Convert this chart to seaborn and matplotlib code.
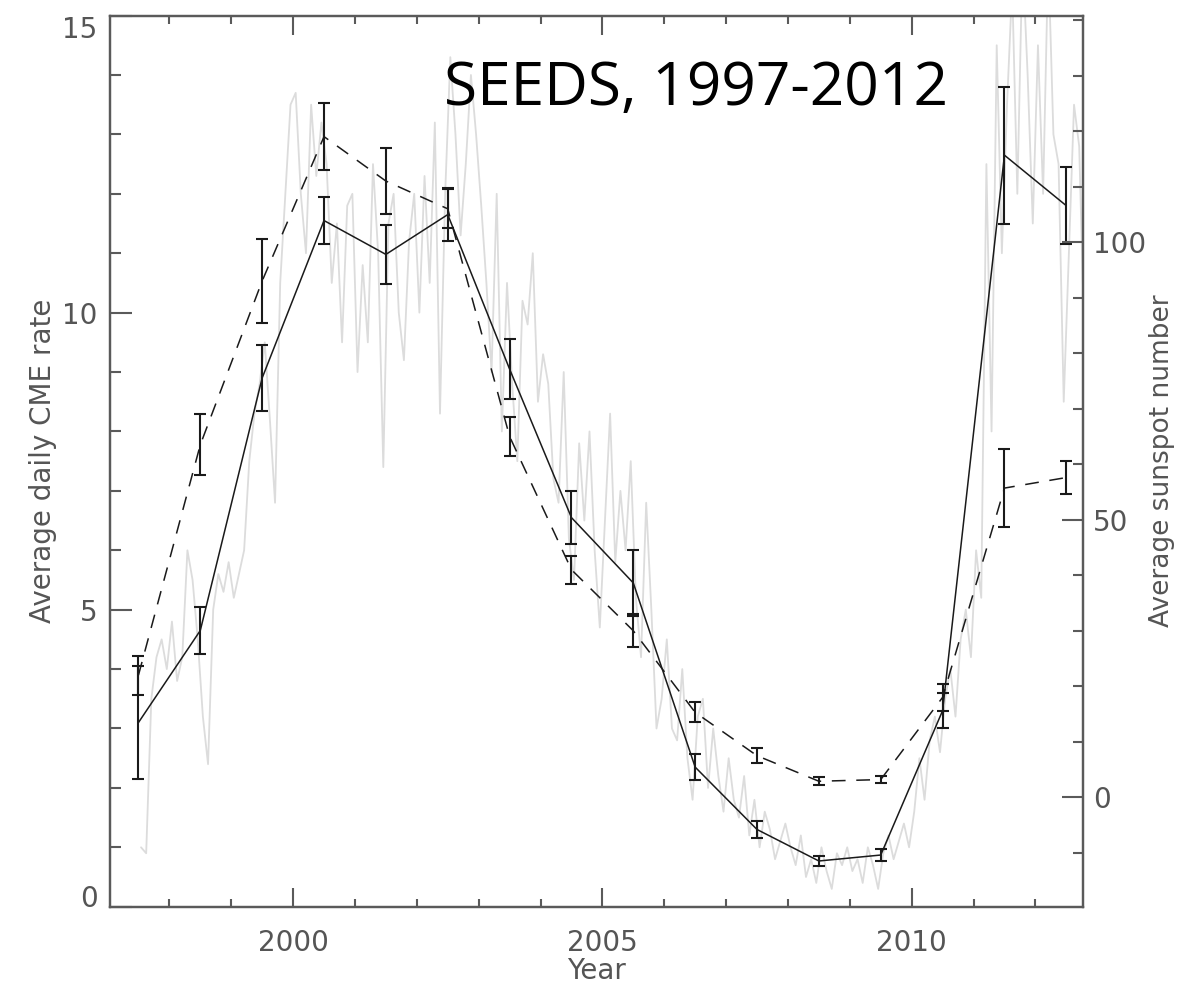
import numpy as np
import pandas as pd
import matplotlib
matplotlib.use("Agg")
import matplotlib.pyplot as plt
from matplotlib.ticker import MultipleLocator
import seaborn as sns

# Yearly averages (mid-year)
years = [1997.5, 1998.5, 1999.5, 2000.5, 2001.5, 2002.5, 2003.5, 2004.5,
         2005.5, 2006.5, 2007.5, 2008.5, 2009.5, 2010.5, 2011.5, 2012.5]
cme_rate = [3.1, 4.65, 8.9, 11.55, 10.98, 11.65, 9.05, 6.55,
            5.45, 2.35, 1.3, 0.77, 0.87, 3.3, 12.65, 11.8]
cme_err = [0.95, 0.4, 0.55, 0.4, 0.5, 0.45, 0.5, 0.45,
           0.55, 0.22, 0.14, 0.08, 0.1, 0.3, 1.15, 0.65]
sunspot = [22.0, 63.5, 93.0, 119.0, 111.0, 106.0, 65.0, 41.0,
           30.0, 15.3, 7.5, 2.9, 3.2, 18.0, 55.7, 57.6]
sunspot_err = [3.5, 5.5, 7.5, 6.0, 6.0, 3.5, 3.5, 2.5,
               3.0, 1.8, 1.3, 0.7, 0.7, 2.5, 7.0, 3.0]

# Monthly CME rate, July 1997 - December 2012
monthly_rate = [
    1.0, 0.9, 3.5, 4.2, 4.5, 4.0,
    4.8, 3.8, 4.2, 6.0, 5.5, 4.5, 3.2, 2.4, 5.0, 5.6, 5.3, 5.8,
    5.2, 5.6, 6.0, 7.5, 8.3, 8.8, 9.5, 8.2, 6.8, 10.5, 12.0, 13.5,
    13.7, 12.0, 11.0, 13.5, 12.3, 13.2, 12.5, 10.5, 11.5, 9.5, 11.8, 12.0,
    9.0, 10.8, 9.5, 12.5, 11.0, 7.4, 11.5, 12.0, 10.0, 9.2, 11.2, 12.0,
    10.0, 12.3, 10.5, 13.2, 8.3, 12.0, 14.3, 13.0, 11.3, 12.5, 14.0, 13.0,
    11.8, 10.5, 9.0, 12.0, 8.0, 10.5, 8.8, 7.5, 10.2, 9.8, 11.0, 8.5,
    9.3, 8.8, 7.2, 6.8, 9.0, 6.2, 5.5, 7.8, 6.5, 8.0, 6.0, 4.7,
    6.5, 8.3, 5.8, 7.0, 6.0, 7.5, 5.2, 4.2, 6.8, 5.0, 3.0, 3.5,
    4.5, 3.0, 2.8, 4.0, 2.5, 1.8, 3.2, 3.5, 2.0, 3.0, 2.2, 1.6,
    2.5, 1.8, 1.5, 2.2, 1.2, 1.8, 1.0, 1.6, 1.3, 0.8, 1.1, 1.4,
    1.0, 0.7, 1.2, 0.5, 0.8, 0.4, 1.0, 0.6, 0.3, 0.9, 0.7, 1.0,
    0.6, 0.8, 0.4, 1.0, 0.7, 0.3, 0.9, 1.2, 0.8, 1.1, 1.4, 1.0,
    1.6, 2.5, 1.8, 2.8, 3.2, 2.6, 3.5, 4.0, 3.2, 4.5, 5.0, 4.2,
    6.0, 5.2, 12.5, 8.0, 14.5, 11.0, 13.5, 15.5, 12.0, 16.0, 14.0, 11.5,
    14.5, 12.0, 16.0, 13.0, 12.5, 8.5, 11.0, 13.5, 12.8, 9.5, 12.5, 11.8,
]
monthly_time = 1997.5 + (np.arange(len(monthly_rate)) + 0.5) / 12.0

title_text = "SEEDS, 1997-2012"
xlabel = "Year"
ylabel_left = "Average daily CME rate"
ylabel_right = "Average sunspot number"

yearly = pd.DataFrame({"year": years, "cme": cme_rate, "cme_err": cme_err,
                       "ssn": sunspot, "ssn_err": sunspot_err})
monthly = pd.DataFrame({"t": monthly_time, "rate": monthly_rate})

sns.set_theme(style="white")
plt.rcParams["font.family"] = ["DejaVu Sans"]

axis_grey = "#5a5a5a"
text_grey = "#555555"
ink = "#1a1a1a"

fig = plt.figure(figsize=(11.84, 9.86), dpi=100)
ax = fig.add_axes([0.0929, 0.0804, 0.8218, 0.9038])
ax2 = ax.twinx()

# Monthly rate in light grey behind everything
sns.lineplot(data=monthly, x="t", y="rate", ax=ax, color="#dcdcdc",
             linewidth=1.3, zorder=1)

# Yearly CME rate (solid) with error bars
sns.lineplot(data=yearly, x="year", y="cme", ax=ax, color=ink,
             linewidth=1.1, zorder=3)
ax.errorbar(yearly["year"], yearly["cme"], yerr=yearly["cme_err"], fmt="none",
            ecolor=ink, elinewidth=1.5, capsize=4.5, capthick=1.5, zorder=4)

# Yearly sunspot number (dashed) with error bars
sns.lineplot(data=yearly, x="year", y="ssn", ax=ax2, color=ink,
             linewidth=1.1, zorder=3)
ax2.lines[-1].set_dashes([9, 7])
ax2.errorbar(yearly["year"], yearly["ssn"], yerr=yearly["ssn_err"], fmt="none",
             ecolor=ink, elinewidth=1.5, capsize=4.5, capthick=1.5, zorder=4)

ax.set_xlim(1997.04, 2012.77)
ax.set_ylim(0, 15)
ax2.set_ylim(-19.7, 140.8)

ax.set_xticks([2000, 2005, 2010])
ax.xaxis.set_minor_locator(MultipleLocator(1))
ax.set_yticks([0, 5, 10, 15])
ax.yaxis.set_minor_locator(MultipleLocator(1))
ax2.set_yticks([0, 50, 100])
ax2.yaxis.set_minor_locator(MultipleLocator(10))

for a in (ax, ax2):
    for s in a.spines.values():
        s.set_color(axis_grey)
        s.set_linewidth(1.6)
        s.set_visible(True)

ax.tick_params(axis="x", which="both", direction="in", top=True, bottom=True,
               color=axis_grey, width=1.5, labelsize=20, labelcolor=text_grey, pad=16)
ax.tick_params(axis="x", which="major", length=14)
ax.tick_params(axis="x", which="minor", length=6)
ax.tick_params(axis="y", which="both", direction="in", left=True, right=False,
               color=axis_grey, width=1.5, labelsize=20, labelcolor=text_grey, pad=9)
ax.tick_params(axis="y", which="major", length=16)
ax.tick_params(axis="y", which="minor", length=8)
ax2.tick_params(axis="y", which="both", direction="in", right=True, left=False,
                color=axis_grey, width=1.5, labelsize=20, labelcolor=text_grey, pad=7)
ax2.tick_params(axis="y", which="major", length=15)
ax2.tick_params(axis="y", which="minor", length=7)

# Edge labels sit inside the axis range
fig.canvas.draw()
ylabels = ax.get_yticklabels()
ylabels[0].set_verticalalignment("baseline")
ylabels[-1].set_verticalalignment("top")

ax.set_xlabel(xlabel, fontsize=20, color=text_grey, labelpad=0)
ax.set_ylabel(ylabel_left, fontsize=20, color=text_grey, labelpad=4)
ax2.set_ylabel(ylabel_right, fontsize=19, color=text_grey, labelpad=2)

fig.text(0.588, 0.8935, title_text, fontsize=43.5, color="black",
         family=["Open Sans", "DejaVu Sans"], ha="center", va="baseline")

fig.savefig("out.png", dpi=100)
